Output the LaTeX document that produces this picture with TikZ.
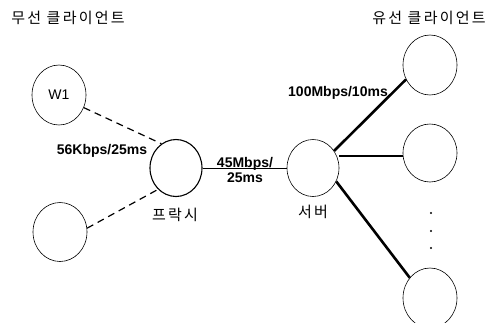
\documentclass[tikz,border=0pt]{standalone}
\usepackage{fontspec}
\setmainfont{Liberation Sans}
\newfontfamily\kr[LetterSpace=15]{Noto Sans CJK KR}
\usetikzlibrary{shapes.geometric}
\tikzset{
  host/.style={ellipse,draw,line width=0.6pt,minimum width=54pt,minimum height=57pt,inner sep=0pt},
  rate/.style={font=\bfseries\fontsize{14}{15.5}\selectfont,inner sep=0pt,align=center},
  krtext/.style={font=\kr\fontsize{15}{17}\selectfont,inner sep=0pt},
  wireless/.style={dashed,dash pattern=on 7pt off 5pt,line width=1.2pt},
  wired/.style={line width=2.6pt}
}
\begin{document}
\begin{tikzpicture}[x=1pt,y=-1pt]
  \useasboundingbox (0,0) rectangle (491,322);
  \clip (0,0) rectangle (491,322);
  % LEFT : wireless clients
  \node[krtext] (wlbl) at (68,18) {무선 클라이언트};
  \node[host,minimum height=60pt,font=\fontsize{14}{16}\selectfont] (w1) at (59,95) {W1};
  \node[host,minimum height=59pt] (w2) at (60,232) {};
  % MIDDLE : proxy and server
  \node[host,line width=1.1pt,minimum width=52pt,minimum height=57pt] (proxy) at (176,168) {};
  \node[krtext] (plbl) at (175,215) {프락시};
  \node[host,minimum width=52pt,minimum height=57pt] (server) at (313,168) {};
  \node[krtext] (slbl) at (313,212) {서버};
  % RIGHT : wired clients
  \node[krtext] (clbl) at (429,18) {유선 클라이언트};
  \node[host,minimum height=60pt] (c1) at (430,65) {};
  \node[host,minimum height=58pt] (c2) at (430,153) {};
  \node[host,minimum height=60pt] (c3) at (430,298) {};
  \fill (431,213) circle (1.2pt) (431,231) circle (1.2pt) (431,248) circle (1.2pt);
  % links
  \draw[wireless] (w1.-27) -- (proxy.121);
  \draw[wireless] (w2.8) -- (proxy.230);
  \draw[line width=1pt] (proxy.east) -- (server.west);
  \draw[wired] (server.39) -- (c1.211);
  \draw[wired] (server.east |- 0,156) -- (c2.west |- 0,156);
  \draw[wired] (server.-30) -- (c3.135);
  % rates
  \node[rate] (r1) at (102,151) {56Kbps/25ms};
  \node[rate] (r2) at (245,170) {45Mbps/\\25ms};
  \node[rate] (r3) at (338,93) {100Mbps/10ms};
\end{tikzpicture}
\end{document}
